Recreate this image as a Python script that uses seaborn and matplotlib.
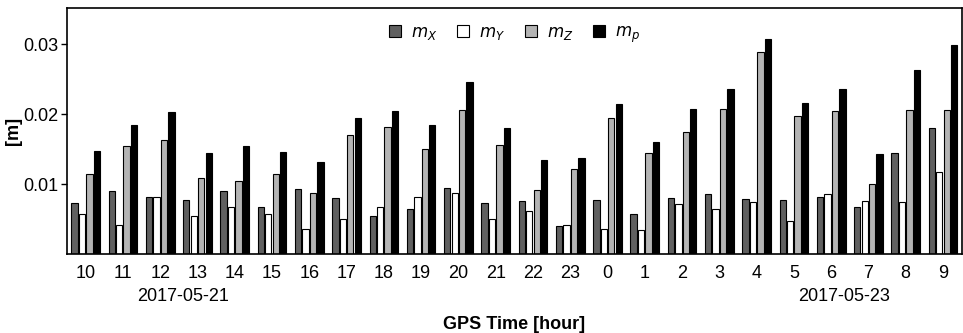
import pandas as pd
import seaborn as sns
import matplotlib.pyplot as plt

# hours of GPS time shown on the x axis
hours = ["10", "11", "12", "13", "14", "15", "16", "17", "18", "19", "20", "21",
         "22", "23", "0", "1", "2", "3", "4", "5", "6", "7", "8", "9"]

# values [m]
m_x = [0.0073, 0.0090, 0.0081, 0.0078, 0.0090, 0.0068, 0.0093, 0.0080, 0.0055, 0.0064,
       0.0095, 0.0073, 0.0076, 0.0040, 0.0077, 0.0058, 0.0080, 0.0086, 0.0079, 0.0077,
       0.0081, 0.0067, 0.0145, 0.0181]
m_y = [0.0057, 0.0042, 0.0081, 0.0055, 0.0068, 0.0057, 0.0036, 0.0050, 0.0067, 0.0081,
       0.0087, 0.0050, 0.0062, 0.0042, 0.0036, 0.0034, 0.0071, 0.0064, 0.0075, 0.0047,
       0.0086, 0.0076, 0.0075, 0.0118]
m_z = [0.0115, 0.0154, 0.0163, 0.0109, 0.0105, 0.0114, 0.0087, 0.0170, 0.0182, 0.0150,
       0.0206, 0.0156, 0.0091, 0.0122, 0.0195, 0.0144, 0.0174, 0.0208, 0.0289, 0.0198,
       0.0204, 0.0100, 0.0206, 0.0206]
m_p = [0.0148, 0.0184, 0.0203, 0.0144, 0.0154, 0.0146, 0.0132, 0.0195, 0.0204, 0.0184,
       0.0246, 0.0181, 0.0134, 0.0137, 0.0214, 0.0160, 0.0207, 0.0236, 0.0308, 0.0216,
       0.0236, 0.0143, 0.0263, 0.0299]

series = ["$m_X$", "$m_Y$", "$m_Z$", "$m_p$"]
colors = ["#606060", "#ffffff", "#b4b4b4", "#000000"]

rows = []
for name, vals in zip(series, [m_x, m_y, m_z, m_p]):
    for h, v in zip(hours, vals):
        rows.append({"hour": h, "series": name, "value": v})
df = pd.DataFrame(rows)

sns.set_style("ticks")
plt.rcParams["font.family"] = ["Liberation Sans", "DejaVu Sans"]
plt.rcParams["mathtext.fontset"] = "dejavusans"
plt.rcParams["text.color"] = "black"
plt.rcParams["axes.labelcolor"] = "black"
plt.rcParams["xtick.color"] = "black"
plt.rcParams["ytick.color"] = "black"

fig = plt.figure(figsize=(9.63, 3.33), dpi=100)
ax = fig.add_axes([0.0696, 0.237, 0.929, 0.739])

sns.barplot(data=df, x="hour", y="value", hue="series", order=hours,
            hue_order=series, palette=colors, width=0.8, gap=0.15,
            edgecolor="black", linewidth=0.8, ax=ax)

ax.set_xlim(-0.5, len(hours) - 0.5)
ax.set_ylim(0, 0.0352)
ax.set_yticks([0.01, 0.02, 0.03])
ax.set_yticklabels(["0.01", "0.02", "0.03"])
ax.tick_params(axis="x", length=0, pad=8, labelsize=13)
ax.tick_params(axis="y", length=4, width=1, pad=2, labelsize=13)
for sp in ax.spines.values():
    sp.set_visible(True)
    sp.set_color("black")
    sp.set_linewidth(1.2)

ax.set_xlabel("GPS Time [hour]", fontsize=13, fontweight="bold", labelpad=24)
ax.set_ylabel("[m]", fontsize=13, fontweight="bold", labelpad=1)

# date labels under the hour ticks
ax.text(2.6, -0.0048, "2017-05-21", ha="center", va="top", fontsize=13,
        transform=ax.transData)
ax.text(20.35, -0.0048, "2017-05-23", ha="center", va="top", fontsize=13,
        transform=ax.transData)

ax.legend(loc="upper center", ncol=4, frameon=False, fontsize=12,
          handlelength=0.7, handleheight=0.7, columnspacing=1.2,
          handletextpad=0.6, borderaxespad=0.6)

fig.savefig("out.png", dpi=100)
